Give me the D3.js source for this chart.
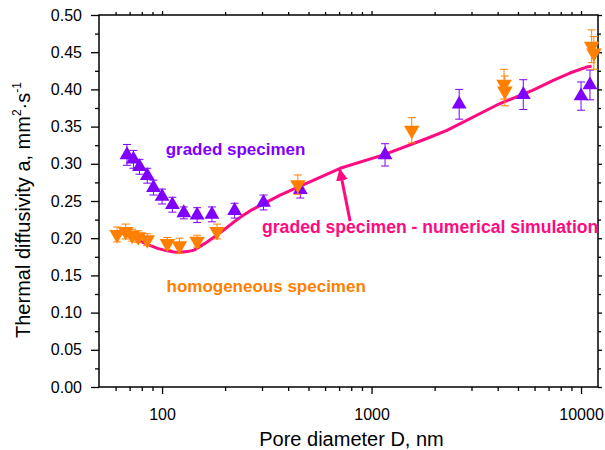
<!DOCTYPE html>
<html>
<head>
<meta charset="utf-8">
<script src="https://cdn.jsdelivr.net/npm/d3@7"></script>
<style>
  body { margin: 0; background: #fff; }
  svg text { font-family: Arial, "Liberation Sans", sans-serif; }
</style>
</head>
<body>
<div id="chart"></div>
<script>
// graded specimen (measured)
var gradedD   = [68, 73, 78, 85, 91, 100, 112, 127, 147, 173, 222, 305, 457, 1160, 2620, 5300, 10000, 11030];
var gradedA   = [0.312, 0.306, 0.296, 0.284, 0.268, 0.256, 0.245, 0.234, 0.231, 0.232, 0.237, 0.248, 0.265, 0.312, 0.380, 0.393, 0.391, 0.406];
var gradedErr = [0.014, 0.012, 0.010, 0.010, 0.010, 0.010, 0.010, 0.008, 0.010, 0.010, 0.010, 0.010, 0.011, 0.015, 0.020, 0.020, 0.019, 0.020];

// homogeneous specimen (measured)
var homoD   = [61, 67, 72, 77, 85, 106, 121, 147, 183, 445, 1556, 4290, 4330, 11240, 11520];
var homoA   = [0.205, 0.209, 0.204, 0.202, 0.198, 0.193, 0.190, 0.196, 0.209, 0.272, 0.345, 0.407, 0.398, 0.458, 0.449];
var homoErr = [0.010, 0.010, 0.008, 0.008, 0.008, 0.008, 0.010, 0.008, 0.010, 0.013, 0.017, 0.020, 0.020, 0.022, 0.022];

// graded specimen - numerical simulation
var simD = [64, 73, 80, 88, 96, 106, 114, 122, 132, 142, 152, 164, 180, 197, 216, 236, 264, 366, 708, 1140, 1835, 2290, 4100, 5900, 7370, 8850, 10630, 11230];
var simA = [0.207, 0.200, 0.195, 0.190, 0.186, 0.183, 0.1815, 0.181, 0.182, 0.184, 0.189, 0.195, 0.203, 0.211, 0.220, 0.228, 0.237, 0.258, 0.294, 0.312, 0.334, 0.345, 0.381, 0.399, 0.412, 0.422, 0.430, 0.431];

var xTicks = [100, 1000, 10000];
var yTicks = [0, 0.05, 0.1, 0.15, 0.2, 0.25, 0.3, 0.35, 0.4, 0.45, 0.5];

var purple = "#7f00ff", orange = "#ff8000", pink = "#ff0a80";

var width = 605, height = 450;
var margin = {left: 99, top: 15, right: 7, bottom: 63};
var plotW = width - margin.left - margin.right;
var plotH = height - margin.top - margin.bottom;

var svg = d3.select("#chart").append("svg")
  .attr("width", width)
  .attr("height", height);

var x = d3.scaleLog().domain([50, 12050]).range([0, plotW]);
var y = d3.scaleLinear().domain([0, 0.5]).range([plotH, 0]);

var g = svg.append("g").attr("transform", "translate(" + margin.left + "," + margin.top + ")");

// minor ticks
var xMinor = [];
[10, 100, 1000].forEach(function(dec) {
  for (var k = 1; k <= 9; k++) {
    var v = dec * k;
    if (v >= 60 && v <= 10000 && xTicks.indexOf(v) < 0) xMinor.push(v);
  }
});
var yMinor = d3.range(0.025, 0.5, 0.05);

// bottom axis
g.append("g").attr("transform", "translate(0," + plotH + ")")
  .call(d3.axisBottom(x).tickValues(xMinor).tickSize(4).tickFormat(""));
g.append("g").attr("class", "xmajor").attr("transform", "translate(0," + plotH + ")")
  .call(d3.axisBottom(x).tickValues(xTicks).tickSize(7).tickPadding(15).tickFormat(d3.format("d")));
// top axis
g.append("g").call(d3.axisTop(x).tickValues(xMinor).tickSize(3).tickFormat(""));
g.append("g").call(d3.axisTop(x).tickValues(xTicks).tickSize(4).tickFormat(""));
// left axis
g.append("g").call(d3.axisLeft(y).tickValues(yMinor).tickSize(4).tickFormat(""));
g.append("g").attr("class", "ymajor")
  .call(d3.axisLeft(y).tickValues(yTicks).tickSize(8).tickPadding(9).tickFormat(d3.format(".2f")));
// right axis
g.append("g").attr("transform", "translate(" + plotW + ",0)")
  .call(d3.axisRight(y).tickValues(yMinor).tickSize(3).tickFormat(""));
g.append("g").attr("transform", "translate(" + plotW + ",0)")
  .call(d3.axisRight(y).tickValues(yTicks).tickSize(4).tickFormat(""));

g.selectAll(".domain").remove();
g.selectAll(".tick line").attr("stroke", "#000").attr("stroke-width", 1.3);
g.selectAll(".xmajor text, .ymajor text")
  .style("font-size", "16px").attr("fill", "#000");

g.append("rect")
  .attr("width", plotW).attr("height", plotH)
  .attr("fill", "none").attr("stroke", "#000").attr("stroke-width", 1.5);

// simulation line
var line = d3.line()
  .x(function(d) { return x(d[0]); })
  .y(function(d) { return y(d[1]); });
g.append("path")
  .datum(simD.map(function(d, i) { return [d, simA[i]]; }))
  .attr("d", line)
  .attr("fill", "none")
  .attr("stroke", pink)
  .attr("stroke-width", 3)
  .attr("stroke-linejoin", "round");

// series with error bars
function drawSeries(D, A, E, color, down) {
  var data = D.map(function(d, i) { return {d: d, a: A[i], e: E[i]}; });
  var eb = g.append("g").selectAll("g").data(data).enter().append("g")
    .attr("stroke", color).attr("stroke-width", 1);
  eb.append("line")
    .attr("x1", function(d) { return x(d.d); })
    .attr("x2", function(d) { return x(d.d); })
    .attr("y1", function(d) { return y(d.a + d.e); })
    .attr("y2", function(d) { return y(d.a - d.e); });
  [1, -1].forEach(function(s) {
    eb.append("line")
      .attr("x1", function(d) { return x(d.d) - 4; })
      .attr("x2", function(d) { return x(d.d) + 4; })
      .attr("y1", function(d) { return y(d.a + s * d.e); })
      .attr("y2", function(d) { return y(d.a + s * d.e); });
  });
  g.append("g").selectAll("path").data(data).enter().append("path")
    .attr("d", d3.symbol().type(d3.symbolTriangle).size(down ? 105 : 95))
    .attr("transform", function(d) {
      return "translate(" + x(d.d) + "," + y(d.a) + ")" + (down ? " rotate(180)" : "");
    })
    .attr("fill", color);
}
drawSeries(gradedD, gradedA, gradedErr, purple, false);
drawSeries(homoD, homoA, homoErr, orange, true);

// annotations
function label(txt, d, a, color, size) {
  g.append("text")
    .attr("x", x(d)).attr("y", y(a))
    .attr("fill", color)
    .style("font-size", size + "px").style("font-weight", "bold")
    .text(txt);
}
label("graded specimen", 104, 0.312, purple, 17);
label("graded specimen - numerical simulation", 300, 0.207, pink, 17.6);
label("homogeneous specimen", 105, 0.128, orange, 17);

// arrow
svg.append("defs").append("marker")
  .attr("id", "ah").attr("viewBox", "0 0 10 10")
  .attr("refX", 9).attr("refY", 5)
  .attr("markerWidth", 4).attr("markerHeight", 5)
  .attr("markerUnits", "strokeWidth")
  .attr("orient", "auto")
  .append("path").attr("d", "M0,0 L10,5 L0,10 Z").attr("fill", pink);
g.append("line")
  .attr("x1", x(790)).attr("y1", y(0.223))
  .attr("x2", x(706)).attr("y2", y(0.292))
  .attr("stroke", pink).attr("stroke-width", 3)
  .attr("marker-end", "url(#ah)");

// axis titles
svg.append("text")
  .attr("x", margin.left + plotW / 2 + 3).attr("y", 446)
  .attr("text-anchor", "middle")
  .style("font-size", "20px")
  .text("Pore diameter D, nm");

var yt = svg.append("text")
  .attr("transform", "translate(30," + (margin.top + plotH / 2 + 9) + ") rotate(-90)")
  .attr("text-anchor", "middle")
  .style("font-size", "20px");
yt.append("tspan").text("Thermal diffusivity a, mm");
yt.append("tspan").attr("dy", -9).style("font-size", "12px").text("2");
yt.append("tspan").attr("dy", 9).text("\u00b7s");
yt.append("tspan").attr("dy", -9).style("font-size", "12px").text("-1");
</script>
</body>
</html>
